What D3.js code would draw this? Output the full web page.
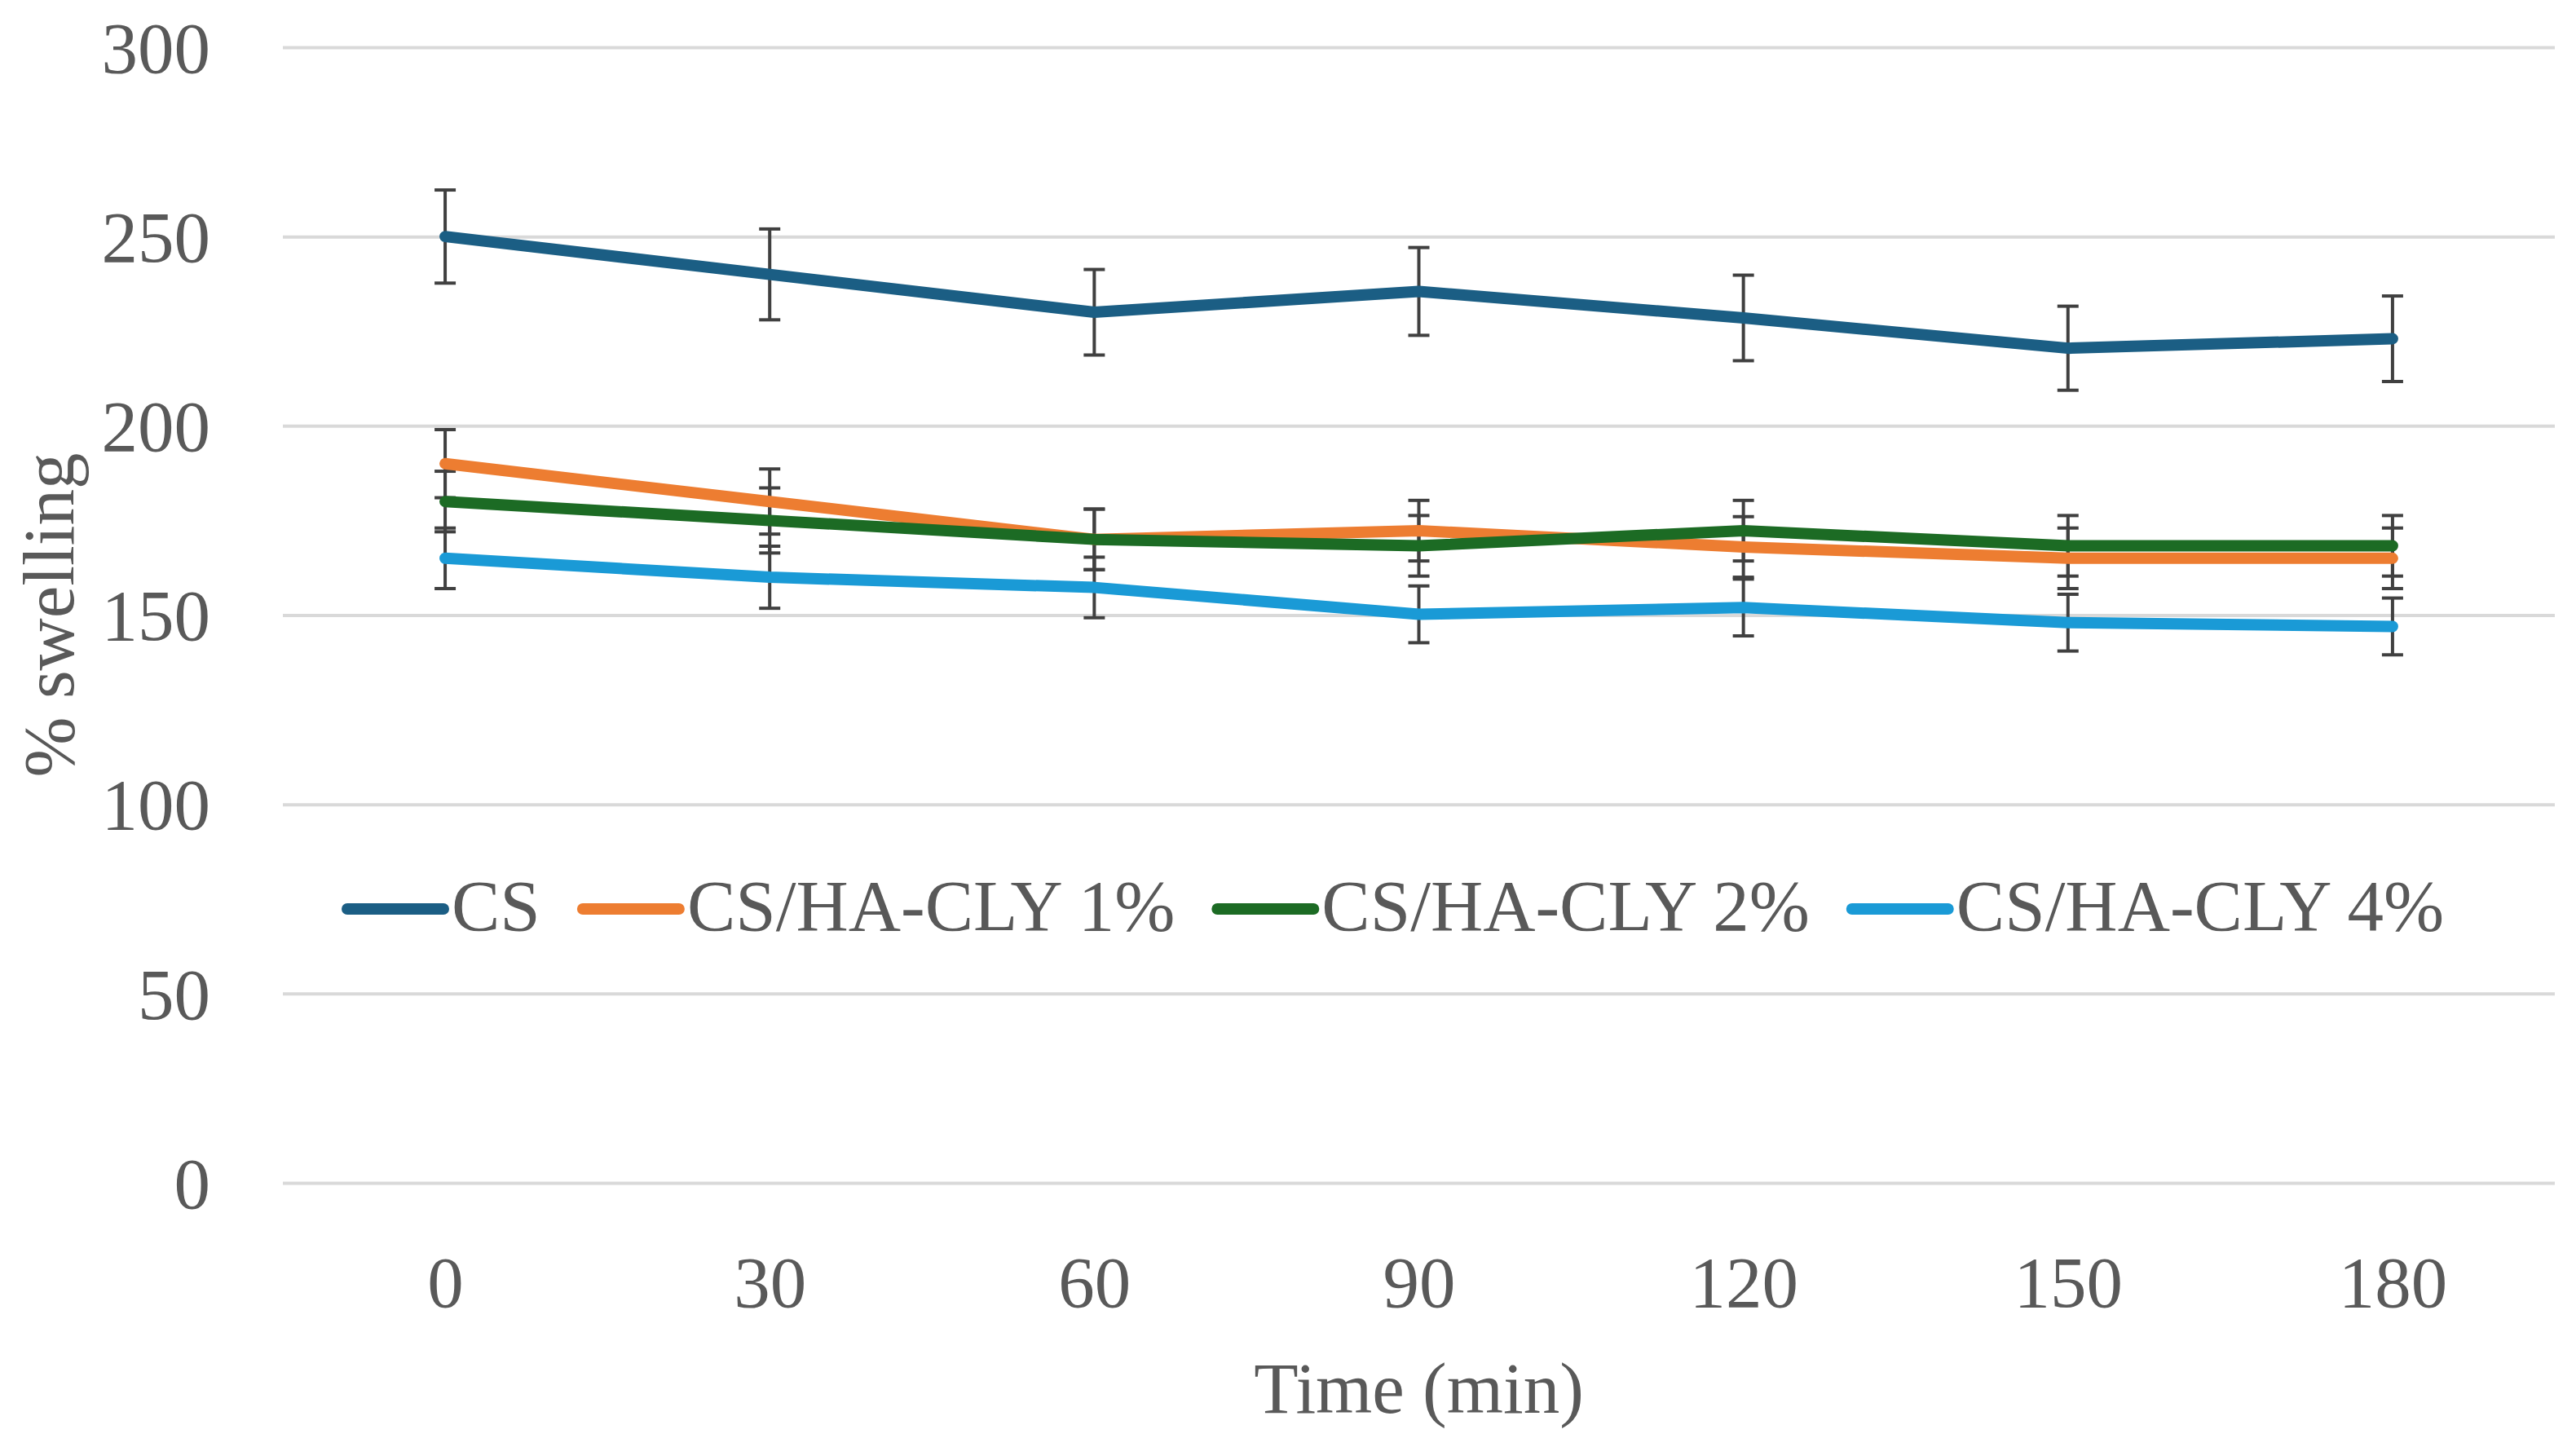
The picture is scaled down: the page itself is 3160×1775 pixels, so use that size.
<!DOCTYPE html>
<html>
<head>
<meta charset="utf-8">
<script src="https://cdn.jsdelivr.net/npm/d3@7"></script>
<style>
  html, body { margin: 0; padding: 0; background: #ffffff; }
  svg { display: block; }
</style>
</head>
<body>
<div id="chart"></div>
<script>
// data
const times = [0, 30, 60, 90, 120, 150, 180]
const seriesNames = ['CS', 'CS/HA-CLY 1%', 'CS/HA-CLY 2%', 'CS/HA-CLY 4%']
const csValues = [250, 240, 230, 235.5, 228.5, 220.5, 223]
const csErrors = [12.3, 12, 11.3, 11.6, 11.3, 11.1, 11.3]
const cly1Values = [190, 180, 170, 172.3, 168, 165, 165]
const cly1Errors = [9, 8.6, 8, 8, 8, 8, 8]
const cly2Values = [180, 175, 170, 168.3, 172.3, 168.3, 168.3]
const cly2Errors = [8, 8.6, 8, 8, 8, 8, 8]
const cly4Values = [165, 160, 157.3, 150.2, 152, 148, 147]
const cly4Errors = [8, 8.2, 8, 7.5, 7.5, 7.5, 7.5]
const yTicks = [0, 50, 100, 150, 200, 250, 300]

const colors = ['#1b5e84', '#ed7d31', '#1c6b24', '#1a9ad6']
const textColor = '#595959'
const font = '"Liberation Serif", "DejaVu Serif", serif'
const fontSize = 89

const width = 3160
const height = 1775
const plot = { left: 347, right: 3134, top: 58, bottom: 1451 }

const series = [
    { name: seriesNames[0], values: csValues, errors: csErrors },
    { name: seriesNames[1], values: cly1Values, errors: cly1Errors },
    { name: seriesNames[2], values: cly2Values, errors: cly2Errors },
    { name: seriesNames[3], values: cly4Values, errors: cly4Errors }
].map((s, i) => ({
    ...s,
    color: colors[i],
    points: times.map((t, j) => ({ t, v: s.values[j], e: s.errors[j] }))
}))

const svg = d3.select('#chart').append('svg')
    .attr('width', width)
    .attr('height', height)
    .style('font-family', font)

const x = d3.scalePoint()
    .domain(times)
    .range([plot.left, plot.right])
    .padding(0.5)

const y = d3.scaleLinear()
    .domain([0, 300])
    .range([plot.bottom, plot.top])

// grid + y labels
const yAxis = svg.append('g')
    .attr('transform', `translate(${plot.left},0)`)
    .call(d3.axisLeft(y)
        .tickValues(yTicks)
        .tickSize(-(plot.right - plot.left))
        .tickPadding(89))
yAxis.select('.domain').remove()
yAxis.selectAll('.tick line')
    .attr('stroke', '#d9d9d9')
    .attr('stroke-width', 4)
yAxis.selectAll('.tick text')
    .attr('fill', textColor)
    .attr('font-size', fontSize)
    .attr('font-family', font)
    .attr('dy', '0.34em')

// x labels
const xAxis = svg.append('g')
    .attr('transform', `translate(0,${plot.bottom})`)
    .call(d3.axisBottom(x).tickSize(0).tickPadding(89))
xAxis.select('.domain').remove()
xAxis.selectAll('.tick text')
    .attr('fill', textColor)
    .attr('font-size', fontSize)
    .attr('font-family', font)

// error bars
const capW = 13
const bars = svg.append('g')
    .attr('stroke', '#404040')
    .attr('stroke-width', 4)
series.forEach(s => {
    const g = bars.append('g')
    g.selectAll('line.stem')
        .data(s.points)
        .enter()
        .append('line')
        .attr('x1', d => x(d.t))
        .attr('x2', d => x(d.t))
        .attr('y1', d => y(d.v + d.e))
        .attr('y2', d => y(d.v - d.e))
    g.selectAll('line.top')
        .data(s.points)
        .enter()
        .append('line')
        .attr('x1', d => x(d.t) - capW)
        .attr('x2', d => x(d.t) + capW)
        .attr('y1', d => y(d.v + d.e))
        .attr('y2', d => y(d.v + d.e))
    g.selectAll('line.bottom')
        .data(s.points)
        .enter()
        .append('line')
        .attr('x1', d => x(d.t) - capW)
        .attr('x2', d => x(d.t) + capW)
        .attr('y1', d => y(d.v - d.e))
        .attr('y2', d => y(d.v - d.e))
})

// lines
const line = d3.line()
    .x(d => x(d.t))
    .y(d => y(d.v))
svg.append('g')
    .selectAll('path')
    .data(series)
    .enter()
    .append('path')
    .attr('d', d => line(d.points))
    .attr('fill', 'none')
    .attr('stroke', d => d.color)
    .attr('stroke-width', 14)
    .attr('stroke-linejoin', 'round')
    .attr('stroke-linecap', 'round')

// legend
const legend = svg.append('g')
let lx = 420
const ly = 1115
series.forEach(s => {
    legend.append('line')
        .attr('x1', lx + 6)
        .attr('x2', lx + 124)
        .attr('y1', ly)
        .attr('y2', ly)
        .attr('stroke', s.color)
        .attr('stroke-width', 14)
        .attr('stroke-linecap', 'round')
    let t = legend.append('text')
        .attr('x', lx + 134)
        .attr('y', ly + 26)
        .attr('font-size', fontSize)
        .attr('fill', textColor)
        .text(s.name)
    lx = lx + 134 + t.node().getComputedTextLength() + 46
})

// axis titles
svg.append('text')
    .attr('x', (plot.left + plot.right) / 2)
    .attr('y', 1733)
    .attr('text-anchor', 'middle')
    .attr('font-size', fontSize)
    .attr('fill', textColor)
    .text('Time (min)')

svg.append('text')
    .attr('transform', `translate(90,${(plot.top + plot.bottom) / 2}) rotate(-90)`)
    .attr('text-anchor', 'middle')
    .attr('font-size', fontSize)
    .attr('fill', textColor)
    .text('% swelling')
</script>
</body>
</html>
